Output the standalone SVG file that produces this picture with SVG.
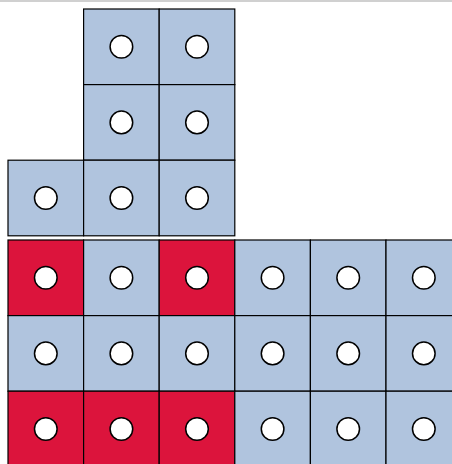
<svg xmlns="http://www.w3.org/2000/svg" width="452" height="464" viewBox="0 0 452 464">
<style>
.b{fill:#B0C4DE;stroke:#000;stroke-width:1.2}
.r{fill:#DC143C;stroke:#000;stroke-width:1.2}
.c{fill:#fff;stroke:#000;stroke-width:1.5}
</style>
<defs>
<g id="dot"><circle class="c" cx="37.8" cy="37.8" r="11.3"/></g>
</defs>
<rect x="0" y="0" width="452" height="464" fill="#fff"/>
<line x1="0" y1="1" x2="452" y2="1" stroke="#d0d0d0" stroke-width="2"/>
<g id="top">
<g id="t1" transform="translate(83.6,9)"><rect class="b" width="75.6" height="75.6"/><use href="#dot"/></g>
<g id="t2" transform="translate(159.2,9)"><rect class="b" width="75.6" height="75.6"/><use href="#dot"/></g>
<g id="t3" transform="translate(83.6,84.6)"><rect class="b" width="75.6" height="75.6"/><use href="#dot"/></g>
<g id="t4" transform="translate(159.2,84.6)"><rect class="b" width="75.6" height="75.6"/><use href="#dot"/></g>
<g id="t5" transform="translate(8,160.2)"><rect class="b" width="75.6" height="75.6"/><use href="#dot"/></g>
<g id="t6" transform="translate(83.6,160.2)"><rect class="b" width="75.6" height="75.6"/><use href="#dot"/></g>
<g id="t7" transform="translate(159.2,160.2)"><rect class="b" width="75.6" height="75.6"/><use href="#dot"/></g>
</g>
<g id="bottom">
<g id="a1" transform="translate(8,240)"><rect class="r" width="75.6" height="75.6"/><use href="#dot"/></g>
<g id="a2" transform="translate(83.6,240)"><rect class="b" width="75.6" height="75.6"/><use href="#dot"/></g>
<g id="a3" transform="translate(159.2,240)"><rect class="r" width="75.6" height="75.6"/><use href="#dot"/></g>
<g id="a4" transform="translate(234.8,240)"><rect class="b" width="75.6" height="75.6"/><use href="#dot"/></g>
<g id="a5" transform="translate(310.4,240)"><rect class="b" width="75.6" height="75.6"/><use href="#dot"/></g>
<g id="a6" transform="translate(386,240)"><rect class="b" width="75.6" height="75.6"/><use href="#dot"/></g>
<g id="b1" transform="translate(8,315.6)"><rect class="b" width="75.6" height="75.6"/><use href="#dot"/></g>
<g id="b2" transform="translate(83.6,315.6)"><rect class="b" width="75.6" height="75.6"/><use href="#dot"/></g>
<g id="b3" transform="translate(159.2,315.6)"><rect class="b" width="75.6" height="75.6"/><use href="#dot"/></g>
<g id="b4" transform="translate(234.8,315.6)"><rect class="b" width="75.6" height="75.6"/><use href="#dot"/></g>
<g id="b5" transform="translate(310.4,315.6)"><rect class="b" width="75.6" height="75.6"/><use href="#dot"/></g>
<g id="b6" transform="translate(386,315.6)"><rect class="b" width="75.6" height="75.6"/><use href="#dot"/></g>
<g id="c1" transform="translate(8,391.2)"><rect class="r" width="75.6" height="75.6"/><use href="#dot"/></g>
<g id="c2" transform="translate(83.6,391.2)"><rect class="r" width="75.6" height="75.6"/><use href="#dot"/></g>
<g id="c3" transform="translate(159.2,391.2)"><rect class="r" width="75.6" height="75.6"/><use href="#dot"/></g>
<g id="c4" transform="translate(234.8,391.2)"><rect class="b" width="75.6" height="75.6"/><use href="#dot"/></g>
<g id="c5" transform="translate(310.4,391.2)"><rect class="b" width="75.6" height="75.6"/><use href="#dot"/></g>
<g id="c6" transform="translate(386,391.2)"><rect class="b" width="75.6" height="75.6"/><use href="#dot"/></g>
</g>
<g id="connectors"/>
</svg>
